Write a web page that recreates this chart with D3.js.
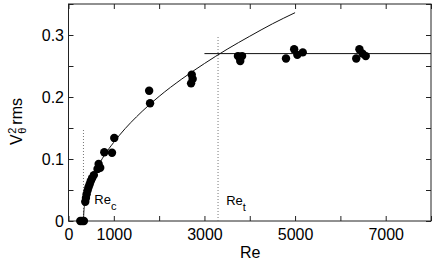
<!DOCTYPE html>
<meta charset="utf-8">
<head>
  <title>V theta rms vs Re</title>
</head>
<style>
  body { margin: 0; background: #fff; }
  svg { display: block; font-family: "Liberation Sans", Arial, Helvetica, sans-serif; }
  .fit, .plateau { fill: none; stroke: #111; stroke-width: 1px; }
  .marker { stroke: #777; stroke-width: 1px; stroke-dasharray: 1,2; }
  .frame { fill: none; stroke: #222; stroke-width: 1px; }
  .axis path { display: none; }
  .axis line { stroke: #222; }
  .axis text { font-size: 16px; fill: #000; }
  .note { font-size: 13px; fill: #000; }
</style>
<body>
<svg width="436" height="266"></svg>
<script src="https://cdn.jsdelivr.net/npm/d3@7"></script>
<script>
// measured points
var reValues = [260, 300, 340, 370, 385, 400, 420, 440, 465, 490, 520, 560, 640, 665, 700, 790, 960, 1010,
                1780, 1800, 2720, 2740, 2705, 3740, 3830, 3790, 4800, 4980, 5050, 5170, 6350, 6420, 6490, 6560];
var vValues  = [0, 0, 0, 0.031, 0.037, 0.043, 0.049, 0.054, 0.059, 0.064, 0.069, 0.074, 0.084, 0.092, 0.086, 0.111, 0.110, 0.134,
                0.210, 0.190, 0.236, 0.229, 0.222, 0.266, 0.266, 0.258, 0.262, 0.277, 0.268, 0.272, 0.262, 0.277, 0.270, 0.266];

// fitted curve
var fitRe = [330, 340, 360, 400, 450, 500, 600, 700, 800, 1000, 1250, 1500, 2000, 2500, 3000, 3500, 4000, 4500, 5000];
var fitV  = [0, 0.016, 0.027, 0.041, 0.054, 0.064, 0.081, 0.095, 0.107, 0.127, 0.149, 0.168, 0.201, 0.229, 0.254, 0.277, 0.298, 0.318, 0.336];

// saturation level
var plateauRe = [3000, 8000];
var plateauV = 0.27;

// critical / transition Reynolds numbers
var markerRe = [330, 3300];
var markerTop = [0.15, 0.30];
var markerName = ["c", "t"];

var xTicks = [0, 1000, 2000, 3000, 4000, 5000, 6000, 7000, 8000];
var xLabels = [0, 1000, 3000, 5000, 7000];
var yTicks = [0, 0.05, 0.1, 0.15, 0.2, 0.25, 0.3, 0.35];
var yLabels = [0, 0.1, 0.2, 0.3];

var svg = d3.select("svg");
var m = {left: 68.5, right: 431, top: 4, bottom: 221};

var x = d3.scaleLinear().domain([0, 8000]).range([m.left, m.right]);
var y = d3.scaleLinear().domain([0, 0.35]).range([m.bottom, m.top]);

// axes with inward ticks
var fmtX = function(d) { return xLabels.indexOf(d) >= 0 ? d : ""; };
var fmtY = function(d) { return yLabels.indexOf(d) >= 0 ? (d === 0 ? "0" : d3.format(".1f")(d)) : ""; };

svg.append("g").attr("class", "axis")
  .attr("transform", "translate(0," + m.bottom + ")")
  .call(d3.axisBottom(x).tickValues(xTicks).tickSizeInner(-5).tickSizeOuter(0).tickPadding(8).tickFormat(fmtX));
svg.append("g").attr("class", "axis")
  .attr("transform", "translate(0," + m.top + ")")
  .call(d3.axisTop(x).tickValues(xTicks).tickSizeInner(-5).tickSizeOuter(0).tickFormat(""));
svg.append("g").attr("class", "axis")
  .attr("transform", "translate(" + m.left + ",0)")
  .call(d3.axisLeft(y).tickValues(yTicks).tickSizeInner(-5).tickSizeOuter(0).tickPadding(4.5).tickFormat(fmtY));
svg.append("g").attr("class", "axis")
  .attr("transform", "translate(" + m.right + ",0)")
  .call(d3.axisRight(y).tickValues(yTicks).tickSizeInner(-5).tickSizeOuter(0).tickFormat(""));

svg.append("rect").attr("class", "frame")
  .attr("x", m.left).attr("y", m.top)
  .attr("width", m.right - m.left).attr("height", m.bottom - m.top);

// dotted markers
markerRe.forEach(function(r, i) {
  svg.append("line").attr("class", "marker")
    .attr("x1", x(r)).attr("x2", x(r))
    .attr("y1", y(0)).attr("y2", y(markerTop[i]));
});

// fit curve
var fit = fitRe.map(function(r, i) { return [r, fitV[i]]; });
svg.append("path").datum(fit).attr("class", "fit")
  .attr("d", d3.line().curve(d3.curveMonotoneX)
    .x(function(d) { return x(d[0]); })
    .y(function(d) { return y(d[1]); }));

// plateau
svg.append("line").attr("class", "plateau")
  .attr("x1", x(plateauRe[0])).attr("x2", x(plateauRe[1]))
  .attr("y1", y(plateauV)).attr("y2", y(plateauV));

// data points
svg.selectAll("circle.pt").data(reValues).enter().append("circle")
  .attr("class", "pt")
  .attr("cx", function(d) { return x(d); })
  .attr("cy", function(d, i) { return y(vValues[i]); })
  .attr("r", 4.2)
  .attr("fill", "#000");

// Re_c and Re_t labels
var notePos = [[570, 0.027], [3480, 0.026]];
notePos.forEach(function(p, i) {
  var t = svg.append("text").attr("class", "note")
    .attr("x", x(p[0])).attr("y", y(p[1]));
  t.append("tspan").text("Re");
  t.append("tspan").attr("font-size", "11px").attr("dy", 6).text(markerName[i]);
});

// axis titles
svg.append("text")
  .attr("x", (m.left + m.right) / 2 + 0.5).attr("y", 258)
  .attr("text-anchor", "middle").attr("font-size", "16px")
  .text("Re");

var yt = svg.append("text")
  .attr("transform", "translate(21.5,145) rotate(-90)")
  .attr("font-size", "16px");
yt.append("tspan").text("V");
yt.append("tspan").attr("font-size", "11px").attr("dx", 0.5).attr("dy", -6).text("2");
yt.append("tspan").attr("font-size", "11px").attr("dx", -6.1).attr("dy", 10).text("θ");
yt.append("tspan").attr("dx", 3).attr("dy", -4).text("rms");
</script>
</body>
</html>
